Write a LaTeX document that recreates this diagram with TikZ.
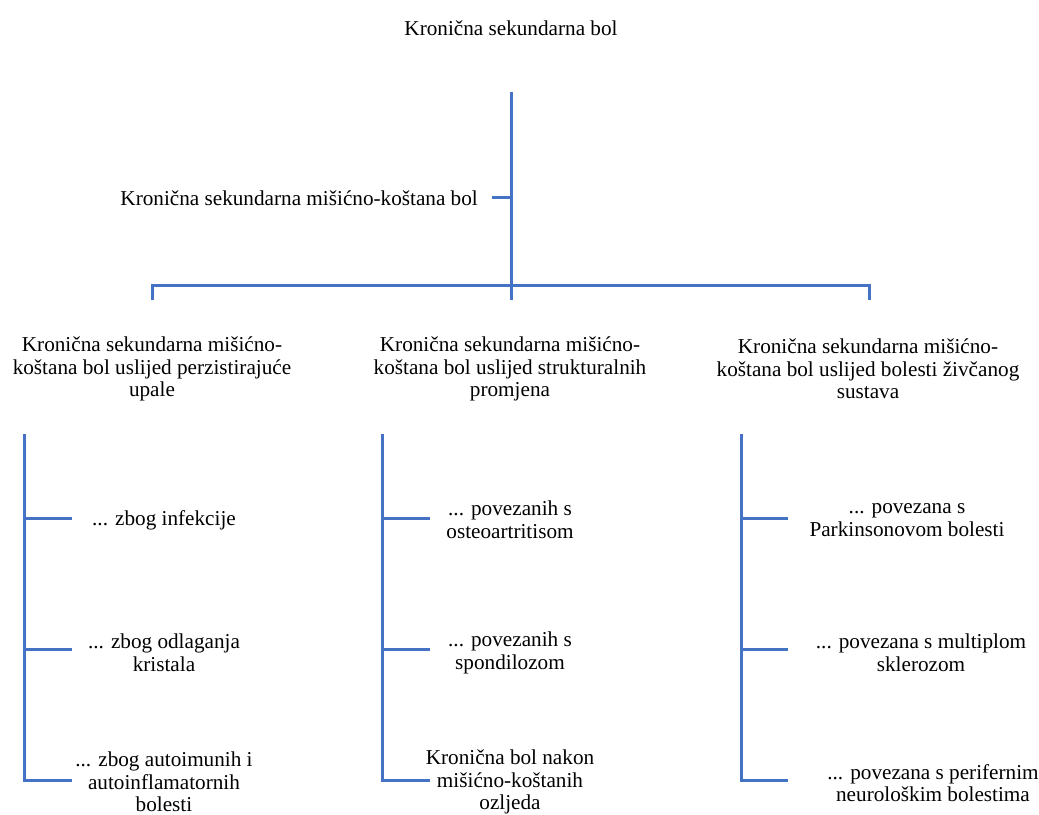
\documentclass[tikz,border=0pt]{standalone}
\usepackage{fontspec}
\setmainfont{Liberation Serif}
\definecolor{linecol}{HTML}{4472C4}
\begin{document}
\begin{tikzpicture}[x=1pt,y=-1pt,
  lbl/.style={font=\fontsize{21.2}{22.6}\selectfont, align=center, inner sep=0pt},
  conn/.style={draw=linecol, line width=3pt}]
\fill[white] (0,0) rectangle (1039,812);
% texts
\node[lbl] (root) at (511,28) {Kronična sekundarna bol};
\node[lbl, anchor=east] (mk) at (478,198) {Kronična sekundarna mišićno-koštana bol};
\node[lbl] (c1) at (152,369) {Kronična sekundarna mišićno-\\koštana bol uslijed perzistirajuće\\upale};
\node[lbl] (c2) at (510,369) {Kronična sekundarna mišićno-\\koštana bol uslijed strukturalnih\\promjena};
\node[lbl] (c3) at (868,369) {Kronična sekundarna mišićno-\\koštana bol uslijed bolesti živčanog\\sustava};
\node[lbl] (l11) at (164,520) {... zbog infekcije};
\node[lbl] (l12) at (164,653) {... zbog odlaganja\\kristala};
\node[lbl] (l13) at (164,782) {... zbog autoimunih i\\autoinflamatornih\\bolesti};
\node[lbl] (l21) at (510,520) {... povezanih s\\osteoartritisom};
\node[lbl] (l22) at (510,653) {... povezanih s\\spondilozom};
\node[lbl] (l23) at (510,782) {Kronična bol nakon\\mišićno-koštanih\\ozljeda};
\node[lbl] (l31) at (907,520) {... povezana s\\Parkinsonovom bolesti};
\node[lbl] (l32) at (921,653) {... povezana s multiplom\\sklerozom};
\node[lbl] (l33) at (933,783) {... povezana s perifernim\\neurološkim bolestima};
% coordinates
\coordinate (ttop) at (511,92);
\coordinate (tmk) at (511,197);
\coordinate (mkend) at (492,197);
\coordinate (tbar) at (511,285);
\coordinate (tbot) at (511,300);
\coordinate (bl) at (152,285);
\coordinate (blb) at (152,300);
\coordinate (br) at (869,285);
\coordinate (brb) at (869,300);
\foreach \n/\x in {a/24,b/382,c/741}{
  \coordinate (\n top) at (\x,434);
  \coordinate (\n1) at (\x,518);
  \coordinate (\n2) at (\x,649);
  \coordinate (\n3) at (\x,780);
}
\coordinate (a1e) at (72,518);\coordinate (a2e) at (72,649);\coordinate (a3e) at (72,780);
\coordinate (b1e) at (430,518);\coordinate (b2e) at (430,649);\coordinate (b3e) at (430,780);
\coordinate (c1e) at (788,518);\coordinate (c2e) at (788,649);\coordinate (c3e) at (788,780);
% connectors
\draw[conn] (ttop) -- (tbot);
\draw[conn] (mkend) -- (tmk);
\draw[conn] (blb) -- (bl) -- (br) -- (brb);
\foreach \n in {a,b,c}{
  \draw[conn] (\n top) -- (\n3) -- (\n3e);
  \draw[conn] (\n1) -- (\n1e);
  \draw[conn] (\n2) -- (\n2e);
}
\end{tikzpicture}
\end{document}
